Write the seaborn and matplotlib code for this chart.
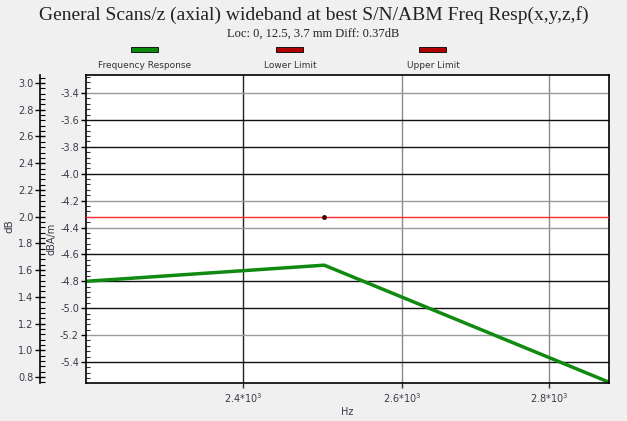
import numpy as np
import pandas as pd
import seaborn as sns
import matplotlib.pyplot as plt
from matplotlib.patches import Rectangle
from matplotlib.ticker import FixedLocator, MultipleLocator, NullLocator

# data
freq = [2217, 2500, 2886]                 # Hz
resp = [-4.80, -4.68, -5.55]              # dBA/m
limit_db = 2.0                            # dB, red limit line
limit_freq = 2500                         # Hz, point on the limit
x_ticks = [2400, 2600, 2800]
x_labels = ['2.4*10$^3$', '2.6*10$^3$', '2.8*10$^3$']
inner_ticks = [-3.4, -3.6, -3.8, -4.0, -4.2, -4.4, -4.6, -4.8, -5.0, -5.2, -5.4]
outer_ticks = [3.0, 2.8, 2.6, 2.4, 2.2, 2.0, 1.8, 1.6, 1.4, 1.2, 1.0, 0.8]
legend_names = ['Frequency Response', 'Lower Limit', 'Upper Limit']

df = pd.DataFrame({'Hz': freq, 'dBA/m': resp})

sns.set_theme(style="ticks")
plt.rcParams['font.family'] = ['DejaVu Sans']

PX = 0.72  # points per pixel at dpi 100

fig = plt.figure(figsize=(6.27, 4.21), dpi=100, facecolor='#f0f0f0')
ax = fig.add_axes([86/627, 1-383/421, 523/627, 308/421])
ax.set_facecolor('white')

sns.lineplot(data=df, x='Hz', y='dBA/m', ax=ax, color='#108a10', linewidth=2.5)

ax.set_xscale('log')
ax.set_xlim(freq[0], freq[-1])
ax.set_ylim(-5.556, -3.266)
ax.xaxis.set_major_locator(FixedLocator(x_ticks))
ax.xaxis.set_minor_locator(NullLocator())
ax.set_xticklabels(x_labels)
ax.yaxis.set_major_locator(FixedLocator(inner_ticks))
ax.yaxis.set_minor_locator(MultipleLocator(0.04))
ax.set_yticklabels([f'{v:.1f}' for v in inner_ticks])

lab_col = '#3a3a48'
ax.tick_params(axis='y', which='major', direction='out', length=5*PX, width=1,
               labelsize=7, labelcolor=lab_col, color='black', pad=1.5)
ax.tick_params(axis='y', which='minor', direction='in', length=4*PX, width=0.8, color='#333')
ax.tick_params(axis='x', which='major', direction='out', length=5*PX, width=1,
               labelsize=7, labelcolor=lab_col, color='#333', pad=2)

ax.grid(True, which='major', axis='both', linewidth=1)
dark = {-3.6, -3.8, -4.0, -4.6, -4.8, -5.0, -5.4}
for v, gl in zip(inner_ticks, ax.yaxis.get_gridlines()):
    gl.set_color('#111' if v in dark else '#9a9a9a')
for i, gl in enumerate(ax.xaxis.get_gridlines()):
    gl.set_color('#222' if i == 0 else '#8a8a8a')

for s in ax.spines.values():
    s.set_color('black')
    s.set_linewidth(1.2)

ax.set_xlabel('Hz', fontsize=7, color=lab_col, labelpad=2)
ax.set_ylabel('dBA/m', fontsize=7, color=lab_col)
ax.yaxis.set_label_coords((56-86)/523, (383-239)/308)

# outer dB axis
ax2 = ax.twinx()
ax2.yaxis.tick_left()
ax2.yaxis.set_label_position('left')
ax2.spines['left'].set_position(('outward', 46*PX))
for k in ['right', 'top', 'bottom']:
    ax2.spines[k].set_visible(False)
ax2.spines['left'].set_color('black')
ax2.spines['left'].set_linewidth(1.2)
ax2.set_ylim(0.755, 3.06)
ax2.yaxis.set_major_locator(FixedLocator(outer_ticks))
ax2.yaxis.set_minor_locator(MultipleLocator(0.04))
ax2.set_yticklabels([f'{v:.1f}' for v in outer_ticks])
ax2.tick_params(axis='y', which='major', direction='inout', length=10*PX, width=1,
                labelsize=7, labelcolor=lab_col, color='black', pad=1)
ax2.tick_params(axis='y', which='minor', direction='in', length=5*PX, width=0.8, color='black')
ax2.set_ylabel('dB', fontsize=7.5, color=lab_col)
ax2.yaxis.set_label_coords((14-86)/523, (383-226)/308)

ax2.axhline(limit_db, color='#ff2a2a', linewidth=1)
ax2.plot([limit_freq], [limit_db], 'o', color='#400000', markersize=2.5)
ax2.set_xlim(freq[0], freq[-1])

# titles
fig.text(0.5, 1-15/421, 'General Scans/z (axial) wideband at best S/N/ABM Freq Resp(x,y,z,f)',
         ha='center', va='center', fontsize=14, family='Liberation Serif', color='#222')
fig.text(0.5, 1-34/421, 'Loc: 0, 12.5, 3.7 mm Diff: 0.37dB',
         ha='center', va='center', fontsize=9, family='Liberation Serif', color='#222')

# legend, handle above label
leg_cols = ['#0a8a0a', '#b00000', '#b00000']
leg_x = [145, 290, 433]
for name, c, x in zip(legend_names, leg_cols, leg_x):
    fig.add_artist(Rectangle(((x-14)/627, 1-52/421), 27/627, 4.5/421,
                             transform=fig.transFigure, facecolor=c,
                             edgecolor='black', linewidth=0.6))
    fig.text(x/627, 1-66/421, name, ha='center', va='center', fontsize=6.5, color='#333')

fig.savefig('out.png', dpi=100, facecolor=fig.get_facecolor())
